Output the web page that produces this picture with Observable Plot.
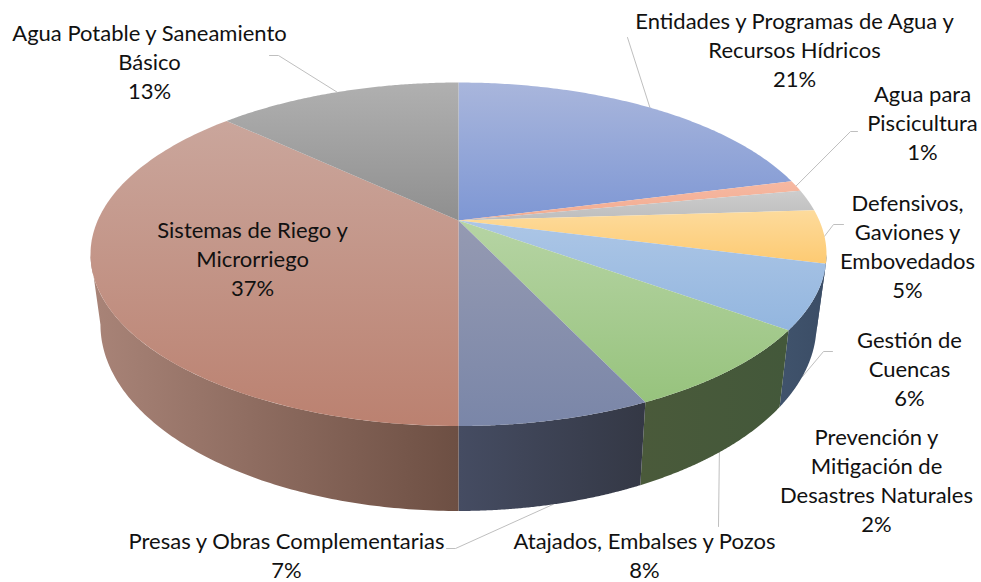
<!DOCTYPE html>
<html>
<head>
<meta charset="utf-8">
<script src="https://cdn.jsdelivr.net/npm/d3@7"></script>
<script src="https://cdn.jsdelivr.net/npm/@observablehq/plot@0.6"></script>
<style>html,body{margin:0;padding:0;background:#fff}</style>
</head>
<body>
<div id="chart"></div>
<script>
const categories = [
  "Entidades y Programas de Agua y\nRecursos Hídricos",
  "Agua para\nPiscicultura",
  "Prevención y\nMitigación de\nDesastres Naturales",
  "Defensivos,\nGaviones y\nEmbovedados",
  "Gestión de\nCuencas",
  "Atajados, Embalses y Pozos",
  "Presas y Obras Complementarias",
  "Sistemas de Riego y\nMicrorriego",
  "Agua Potable y Saneamiento\nBásico"
];
const shares = [21, 1, 2, 5, 6, 8, 7, 37, 13];

// face gradients: top → bottom; wall gradients: left → right
const faceTop = ["#a9b6dc", "#f6b8a2", "#cdcdcd", "#fddb9c", "#acc6e6", "#b6d4a4", "#959ab2", "#caa69c", "#b0b0b0"];
const faceBot = ["#7e97d4", "#f2ac90", "#bdbdbd", "#fdca72", "#93b6df", "#97c37d", "#7a86a8", "#bb8170", "#8f8f8f"];
const wallLeft = ["#6a7fb0", "#c08a70", "#909090", "#3b4d66", "#40536c", "#4a5a3a", "#454c62", "#a98478", "#707070"];
const wallRight = ["#5a6fa0", "#b07a60", "#808080", "#3b4d66", "#3b4d66", "#43583a", "#343845", "#6d4f43", "#606060"];

// layout: label centres, leader elbows (x, y), where along its slice a leader lands
const labelX = [794, 922, 876, 907, 909, 644, 286, 252, 149];
const labelY = [48, 121, 479, 245, 367, 554, 554, 257, 60];
const leaderElbows = [
  [[627, 37]],
  [[857, 131], [850, 131]],
  null,
  [[843, 224], [833, 224]],
  [[832, 351], [823, 351]],
  [[718, 526]],
  [[446, 548], [455, 548]],
  null,
  [[269, 55], [278, 55]]
];
const leaderOnWall = [false, false, false, false, true, true, true, false, false];
const leaderAlong = [0.5, 0.5, 0.5, 0.5, 0.58, 0.52, 0.5, 0.5, 0.5];

// pie geometry: perspective view of a cylinder
const cx = 458, cy = 220, R = 360.8, A = 165.1, K = 0.1966;
const wallScaleX = 0.973, wallScaleY = 1.085, wallShift = 48.8;
const onTop = t => {
  const s = Math.cos(t), c = Math.sin(t), w = 1 + K * s;
  return {x: cx + R * c / w, y: cy - A * s / w};
};
const onBottom = t => {
  const p = onTop(t);
  return {x: cx + (p.x - cx) * wallScaleX, y: p.y * wallScaleY + wallShift};
};
const total = d3.sum(shares);
const cum = d3.cumsum(shares);
const angle = v => v / total * 2 * Math.PI;
const start = i => angle(i ? cum[i - 1] : 0);
const end = i => angle(cum[i]);
const arcOf = (a0, a1, f) => d3.range(0, 121).map(k => f(a0 + (a1 - a0) * k / 120));

// only the part of the wall between the two silhouette angles is seen
const frontStart = Math.PI / 2 + Math.asin(K), frontEnd = 1.5 * Math.PI - Math.asin(K);
const isFront = i => end(i) > frontStart && start(i) < frontEnd;
const wallPoints = i => {
  const a0 = Math.max(start(i), frontStart), a1 = Math.min(end(i), frontEnd);
  return [...arcOf(a0, a1, onTop), ...arcOf(a0, a1, onBottom).reverse()];
};
const facePoints = i => [{x: cx, y: cy}, ...arcOf(start(i), end(i), onTop), {x: cx, y: cy}];

const stops = (g, c0, c1) => {
  g.append("stop").attr("offset", "0%").attr("stop-color", c0);
  g.append("stop").attr("offset", "100%").attr("stop-color", c1);
};
const gradientDefs = () => {
  const defs = d3.create("svg:defs");
  shares.forEach((_, i) => {
    stops(defs.append("linearGradient").attr("id", `face${i}`)
      .attr("x1", 0).attr("y1", 0).attr("x2", 0).attr("y2", 1), faceTop[i], faceBot[i]);
    stops(defs.append("linearGradient").attr("id", `wall${i}`)
      .attr("x1", 0).attr("y1", 0).attr("x2", 1).attr("y2", 0), wallLeft[i], wallRight[i]);
  });
  return defs.node();
};

const indices = d3.range(shares.length);
const labels = indices.map(i => ({
  text: `${categories[i]}\n${shares[i]}%`, x: labelX[i], y: labelY[i]
}));

const plot = Plot.plot({
  width: 981, height: 582,
  margin: 0,
  x: {domain: [0, 981], range: [0, 981], axis: null},
  y: {domain: [0, 582], range: [0, 582], axis: null},
  style: {background: "#fff"},
  marks: [
    gradientDefs,
    ...indices.filter(i => leaderElbows[i]).map(i => {
      const t = start(i) + (end(i) - start(i)) * leaderAlong[i];
      const a = (leaderOnWall[i] ? onBottom : onTop)(t);
      const pts = [...leaderElbows[i].map(([x, y]) => ({x, y})), a];
      return Plot.line(pts, {x: "x", y: "y", stroke: "#bfbfbf", strokeWidth: 1});
    }),
    ...indices.filter(isFront).map(i =>
      Plot.line(wallPoints(i), {x: "x", y: "y", fill: `url(#wall${i})`, stroke: "none"})),
    ...indices.map(i =>
      Plot.line(facePoints(i), {x: "x", y: "y", fill: `url(#face${i})`, stroke: "none"})),
    Plot.text(labels, {
      x: "x", y: "y", text: "text",
      fontFamily: "Lato", fontSize: 22, lineHeight: 1.32,
      fill: "#111", textAnchor: "middle"
    })
  ]
});
document.getElementById("chart").append(plot);
</script>
</body>
</html>
